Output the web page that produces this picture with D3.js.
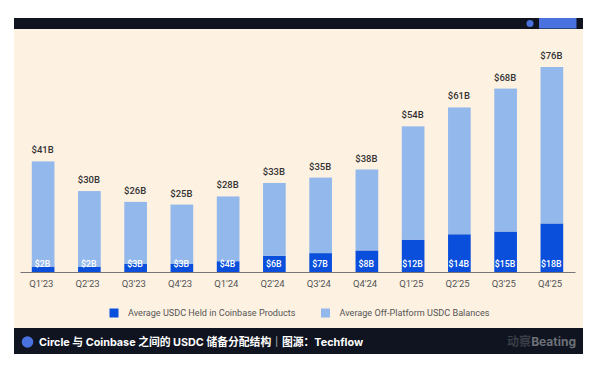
<!DOCTYPE html>
<html>
<head>
<meta charset="utf-8">
<script src="https://cdn.jsdelivr.net/npm/d3@7"></script>
<style>
  html, body { margin: 0; padding: 0; background: #fff; }
  svg { display: block; }
  text { font-family: Roboto, "Noto Sans CJK SC", sans-serif; }
</style>
</head>
<body>
<div id="chart"></div>
<script>
// Values, in $B
var quarters = ["Q1'23", "Q2'23", "Q3'23", "Q4'23", "Q1'24", "Q2'24", "Q3'24", "Q4'24", "Q1'25", "Q2'25", "Q3'25", "Q4'25"];
var heldInCoinbase = [2, 2, 3, 3, 4, 6, 7, 8, 12, 14, 15, 18];
var offPlatform = [39, 28, 23, 22, 24, 27, 28, 30, 42, 47, 53, 58];
var legendLabels = ["Average USDC Held in Coinbase Products", "Average Off-Platform USDC Balances"];
var captionText = "Circle 与 Coinbase 之间的 USDC 储备分配结构｜图源：Techflow";
var watermarkParts = ["动察", "Beating"];

var svg = d3.select("#chart").append("svg")
  .attr("width", 600)
  .attr("height", 375);

var dark = "#0f1420";
var heldColor = "#0a4fdc";
var offColor = "#92b8ec";

// Card background and the two dark strips
svg.append("rect").attr("x", 14).attr("y", 18).attr("width", 569).attr("height", 336).attr("fill", "#fdf1e2");
svg.append("rect").attr("x", 14).attr("y", 18).attr("width", 569).attr("height", 11).attr("fill", dark);
svg.append("rect").attr("x", 14).attr("y", 328).attr("width", 569).attr("height", 26).attr("fill", dark);

// Top strip decoration
svg.append("circle").attr("cx", 530).attr("cy", 23.5).attr("r", 3.5).attr("fill", "#4a72de");
svg.append("rect").attr("x", 539).attr("y", 18).attr("width", 37.5).attr("height", 10.5).attr("fill", "#4a72de");

// Scales
var x = d3.scaleBand()
  .domain(quarters)
  .range([20, 575])
  .paddingInner(0.51)
  .paddingOuter(0.255);

var y = d3.scaleLinear()
  .domain([0, 76])
  .range([272, 67]);

// Stack the two series
var rows = quarters.map(function(q, i) {
  return { quarter: q, held: heldInCoinbase[i], off: offPlatform[i] };
});
var series = d3.stack().keys(["held", "off"])(rows);
var colors = { held: heldColor, off: offColor };

svg.selectAll(".series")
  .data(series)
  .enter()
  .append("g")
  .attr("class", "series")
  .attr("fill", function(d) { return colors[d.key]; })
  .selectAll("rect")
  .data(function(d) { return d; })
  .enter()
  .append("rect")
  .attr("x", function(d) { return x(d.data.quarter); })
  .attr("y", function(d) { return y(d[1]); })
  .attr("width", x.bandwidth())
  .attr("height", function(d) { return y(d[0]) - y(d[1]); });

// Total labels above the bars
svg.selectAll(".total")
  .data(rows)
  .enter()
  .append("text")
  .attr("class", "total")
  .attr("x", function(d) { return x(d.quarter) + x.bandwidth() / 2 - 0.5; })
  .attr("y", function(d) { return y(d.held + d.off) - 8; })
  .attr("text-anchor", "middle")
  .attr("font-size", 9.5)
  .attr("font-weight", 500)
  .attr("fill", "#333")
  .text(function(d) { return "$" + (d.held + d.off) + "B"; });

// Held labels sit near the bottom of each bar
svg.selectAll(".held")
  .data(rows)
  .enter()
  .append("text")
  .attr("class", "held")
  .attr("x", function(d) { return x(d.quarter) + x.bandwidth() / 2 - 0.5; })
  .attr("y", 267)
  .attr("text-anchor", "middle")
  .attr("font-size", 8.8)
  .attr("font-weight", 500)
  .attr("fill", "#fff")
  .text(function(d) { return "$" + d.held + "B"; });

// Bottom axis
var axis = svg.append("g")
  .attr("transform", "translate(0,272)")
  .call(d3.axisBottom(x).tickSize(0).tickPadding(8));
axis.select(".domain").attr("stroke", "#777").attr("stroke-width", 1.2);
axis.selectAll("text")
  .attr("dx", -1.8)
  .attr("font-family", "Roboto")
  .attr("font-size", 9.5)
  .attr("fill", "#555");

// Legend
var legendX = [109.5, 321];
var legendColors = [heldColor, offColor];
legendLabels.forEach(function(label, i) {
  svg.append("rect")
    .attr("x", legendX[i]).attr("y", 308.5)
    .attr("width", 9).attr("height", 9)
    .attr("fill", legendColors[i]);
  svg.append("text")
    .attr("x", legendX[i] + 18.5).attr("y", 315.5)
    .attr("font-size", 9.1)
    .attr("fill", "#555")
    .text(label);
});

// Caption strip
svg.append("circle").attr("cx", 27.5).attr("cy", 342).attr("r", 5.8).attr("fill", "#4a72de");
svg.append("text")
  .attr("x", 39).attr("y", 346)
  .style("font-family", "Inter, 'Noto Sans CJK SC', sans-serif")
  .attr("font-size", 10.8)
  .attr("font-weight", 700)
  .attr("fill", "#fff")
  .text(captionText);

var mark = svg.append("text")
  .attr("x", 576).attr("y", 346)
  .attr("text-anchor", "end")
  .style("font-family", "Inter, 'Noto Sans CJK SC', sans-serif")
  .attr("font-size", 12)
  .attr("font-weight", 700);
mark.append("tspan").attr("fill", "#3a3d45").text(watermarkParts[0]);
mark.append("tspan").attr("fill", "#6d7078").text(watermarkParts[1]);
</script>
</body>
</html>
